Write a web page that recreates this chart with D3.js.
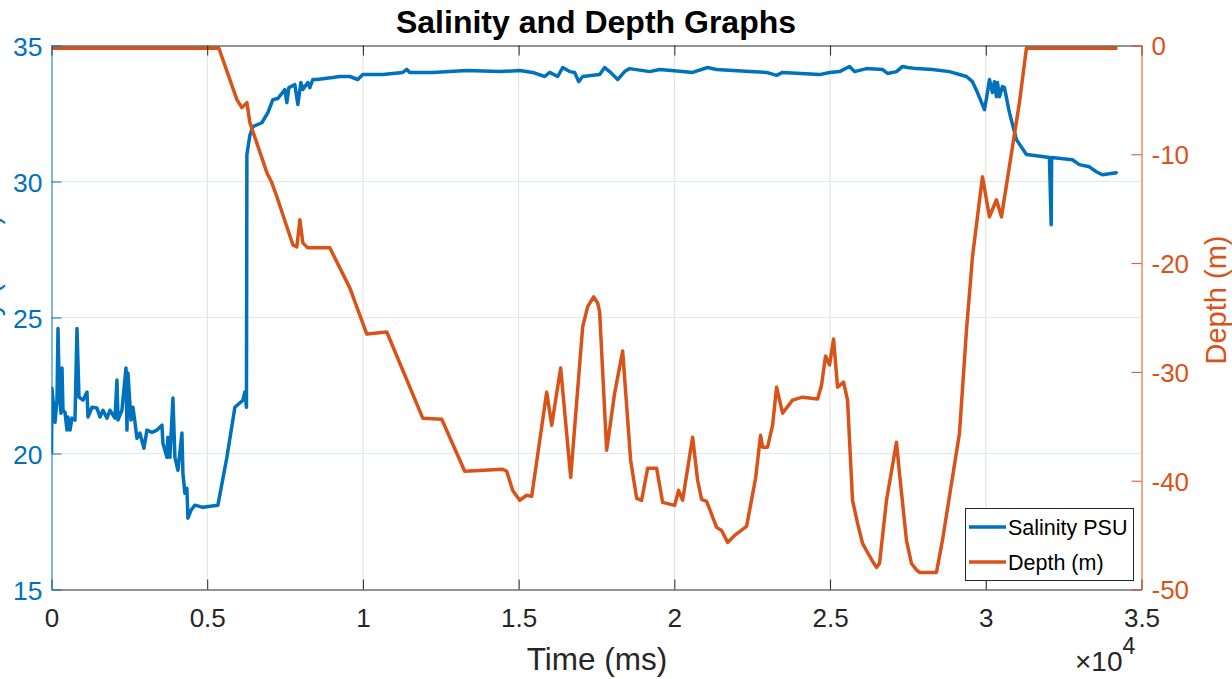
<!DOCTYPE html>
<html><head><meta charset="utf-8">
<script src="https://cdn.jsdelivr.net/npm/d3@7"></script>
<style>
body{margin:0;background:#fff;}
svg{display:block;font-family:"Liberation Sans",Arial,Helvetica,sans-serif;}
</style>
</head><body><svg id="chart" width="1232" height="679"></svg>
<script>
// ---- data ----
const chartTitle = "Salinity and Depth Graphs";
const seriesNames = ["Salinity PSU", "Depth (m)"];
const xTicks = [0, 5000, 10000, 15000, 20000, 25000, 30000, 35000];
const xTickLabels = ["0", "0.5", "1", "1.5", "2", "2.5", "3", "3.5"];
const salTicks = [15, 20, 25, 30, 35];
const depthTicks = [-50, -40, -30, -20, -10, 0];

const salTime = [0,15,112,176,209,250,305,337,369,433,497,529,594,658,754,818,883,1011,1139,1171,1300,1460,1556,1653,1781,1877,2038,2102,2134,2262,2391,2423,2455,2551,2615,2680,2744,2840,2968,3065,3225,3386,3546,3578,3706,3738,3803,3899,3963,4060,4188,4220,4284,4348,4381,4477,4605,4862,5343,5632,5889,6145,6210,6260,6274,6370,6467,6755,6948,7108,7269,7493,7558,7622,7814,7911,8007,8071,8231,8295,8392,8520,9033,9258,9579,9835,9996,10638,11280,11408,11504,12242,13333,14392,15034,15451,15836,15997,16254,16414,16639,16799,16928,17056,17601,17762,17922,18179,18404,18564,19206,19527,20265,20586,21068,21357,22416,22961,23282,23475,24662,24983,25304,25625,25786,26171,26684,26845,27133,27326,27486,27775,28288,28834,29380,29572,29733,29958,30054,30118,30214,30278,30342,30375,30439,30535,30599,30760,30984,31305,31626,32043,32100,32115,32781,33005,33326,33551,33743,34192,34225];
const salValue = [20.0,22.4,21.15,21.96,24.6,22.3,21.48,23.14,21.59,21.52,20.86,21.34,20.86,21.30,21.23,24.6,22.07,21.96,22.26,21.34,21.70,21.67,21.34,21.59,21.30,21.59,21.30,22.70,21.23,21.59,23.14,20.86,22.96,21.23,21.70,21.15,20.56,20.75,20.19,20.86,20.78,20.86,21.04,20.38,19.86,20.60,19.86,22.04,19.86,19.38,20.75,19.27,18.54,18.72,17.62,17.91,18.10,18.02,18.10,19.86,21.70,21.96,22.26,21.70,30.99,31.7,32.02,32.16,32.53,33.01,33.05,33.38,32.90,33.45,33.56,32.83,33.64,33.38,33.64,33.45,33.75,33.75,33.82,33.86,33.86,33.75,33.93,33.93,34.01,34.12,34.01,34.01,34.08,34.04,34.08,34.01,33.86,34.01,33.86,34.19,34.04,34.01,33.67,33.86,33.93,34.19,34.04,33.75,34.04,34.15,34.04,34.12,34.04,34.01,34.19,34.12,34.04,34.01,33.90,34.01,33.93,34.01,34.04,34.23,34.04,34.15,34.12,33.97,34.04,34.23,34.19,34.15,34.12,34.04,33.86,33.67,33.27,32.64,33.27,33.75,33.27,33.67,33.12,33.64,33.12,33.49,33.45,32.53,31.54,30.99,30.95,30.88,28.41,30.88,30.80,30.62,30.54,30.36,30.25,30.32,30.29];

const depthTime = [0,5375,5953,6113,6274,6370,6916,7076,7237,7590,7750,7879,7975,8071,8231,8937,9579,10124,10766,11921,12531,13269,14489,14617,14810,15034,15259,15419,15901,16061,16350,16671,17056,17216,17409,17537,17601,17826,18083,18340,18596,18789,18949,19142,19431,19624,20009,20137,20265,20586,20747,20875,21036,21357,21517,21710,21934,22319,22608,22769,22833,22993,23154,23282,23475,23796,24117,24598,24726,24855,24983,25112,25240,25433,25561,25721,25882,26042,26203,26363,26491,26588,26812,27133,27229,27453,27614,27775,27871,28417,28609,29155,29380,29572,29893,30118,30342,30503,31080,31305,34225];
const depthValue = [-0.25,-0.25,-4.97,-5.71,-5.25,-7.09,-11.69,-12.62,-13.90,-16.94,-18.32,-18.51,-16.02,-18.14,-18.60,-18.60,-22.28,-26.52,-26.33,-34.25,-34.35,-39.13,-38.95,-39.13,-40.9,-41.80,-41.34,-41.44,-31.86,-34.90,-29.65,-39.69,-25.87,-24.0,-23.11,-23.66,-24.49,-37.20,-31.95,-28.08,-38.12,-41.62,-41.80,-38.86,-38.86,-41.99,-42.27,-40.88,-41.80,-36.00,-39.96,-41.71,-41.90,-44.29,-44.57,-45.67,-45.03,-44.20,-39.78,-35.82,-36.92,-36.92,-34.90,-31.40,-33.79,-32.60,-32.32,-32.50,-31.22,-28.54,-29.37,-26.98,-31.40,-30.94,-32.60,-41.80,-43.9,-45.76,-46.6,-47.4,-47.97,-47.61,-41.80,-36.46,-39.32,-45.49,-47.61,-48.2,-48.43,-48.43,-45.49,-35.64,-26.15,-19.43,-12.06,-15.75,-14.18,-15.75,-5.25,-0.25,-0.25];

// ---- styles ----
const BLUE = "#0072BD", ORANGE = "#D95319", AX = "#262626";
const L = 51.5, R = 1141.5, T = 45.5, B = 589.5;

const svg = d3.select("#chart");
const x = d3.scaleLinear().domain([0, 35000]).range([L, R]);
const ySal = d3.scaleLinear().domain([15, 35]).range([B, T]);
const yDep = d3.scaleLinear().domain([-50, 0]).range([B, T]);

// grid
const grid = svg.append("g");
grid.selectAll("line.v").data(xTicks.slice(1, -1)).join("line")
  .attr("x1", d => x(d)).attr("x2", d => x(d)).attr("y1", T).attr("y2", B)
  .attr("stroke", "#dfdfdf").attr("stroke-width", 1);
grid.selectAll("line.h").data(salTicks.slice(1, -1)).join("line")
  .attr("y1", d => ySal(d)).attr("y2", d => ySal(d)).attr("x1", L).attr("x2", R)
  .attr("stroke", "#dbe9f4").attr("stroke-width", 1);

// lines
svg.append("defs").append("clipPath").attr("id", "clip")
  .append("rect").attr("x", L).attr("y", T - 2).attr("width", R - L).attr("height", B - T + 4);
const plot = svg.append("g").attr("clip-path", "url(#clip)");

const salLine = d3.line().x((d, i) => x(salTime[i])).y((d, i) => ySal(salValue[i]));
const depLine = d3.line().x((d, i) => x(depthTime[i])).y((d, i) => yDep(depthValue[i]));
plot.append("path").attr("d", salLine(salValue)).attr("fill", "none")
  .attr("stroke", BLUE).attr("stroke-width", 3.5).attr("stroke-linejoin", "round");
plot.append("path").attr("d", depLine(depthValue)).attr("fill", "none")
  .attr("stroke", ORANGE).attr("stroke-width", 3.5).attr("stroke-linejoin", "round");

// axes
const fmt = (d, i) => xTickLabels[i];
const gB = svg.append("g").attr("transform", `translate(0,${B})`)
  .call(d3.axisBottom(x).tickValues(xTicks).tickFormat(fmt).tickSizeInner(-10).tickSizeOuter(0).tickPadding(18));
const gT = svg.append("g").attr("transform", `translate(0,${T})`)
  .call(d3.axisTop(x).tickValues(xTicks).tickFormat("").tickSizeInner(-10).tickSizeOuter(0));
[gB, gT].forEach(g => {
  g.select(".domain").attr("stroke", AX);
  g.selectAll(".tick line").attr("stroke", AX);
});
gB.selectAll(".tick text").attr("fill", AX).attr("font-size", 26).attr("dy", "0.75em")
  .attr("font-family", "Liberation Sans, Arial, sans-serif");

const gL = svg.append("g").attr("transform", `translate(${L},0)`)
  .call(d3.axisLeft(ySal).tickValues(salTicks).tickFormat(d => String(d)).tickSizeInner(-10).tickSizeOuter(0).tickPadding(9));
gL.select(".domain").attr("stroke", BLUE);
gL.selectAll(".tick line").attr("stroke", BLUE);
gL.selectAll(".tick text").attr("fill", BLUE).attr("font-size", 26.5).attr("dy", "0.36em")
  .attr("font-family", "Liberation Sans, Arial, sans-serif");

const gR = svg.append("g").attr("transform", `translate(${R},0)`)
  .call(d3.axisRight(yDep).tickValues(depthTicks).tickFormat(d => String(d)).tickSizeInner(-10).tickSizeOuter(0).tickPadding(10));
gR.select(".domain").attr("stroke", ORANGE);
gR.selectAll(".tick line").attr("stroke", ORANGE);
gR.selectAll(".tick text").attr("fill", ORANGE).attr("font-size", 26).attr("dy", "0.36em")
  .attr("font-family", "Liberation Sans, Arial, sans-serif");

// labels
svg.append("text").attr("x", 596).attr("y", 33).attr("text-anchor", "middle")
  .attr("font-size", 32).attr("font-weight", "bold").attr("fill", "#000").text(chartTitle);
svg.append("text").attr("x", 597).attr("y", 670).attr("text-anchor", "middle")
  .attr("font-size", 31.5).attr("fill", AX).text("Time (ms)");
const ex = svg.append("text").attr("x", 1075).attr("y", 671).attr("font-size", 28).attr("fill", AX);
ex.append("tspan").text("\u00d710");
ex.append("tspan").attr("dy", -17).attr("font-size", 23).text("4");
svg.append("text").attr("transform", "translate(-1,305) rotate(-90)").attr("text-anchor", "middle")
  .attr("font-size", 29).attr("fill", BLUE).text("Salinity (PSU)");
svg.append("text").attr("transform", "translate(1226,300) rotate(-90)").attr("text-anchor", "middle")
  .attr("font-size", 29).attr("fill", ORANGE).text("Depth (m)");

// legend
const lg = svg.append("g");
lg.append("rect").attr("x", 965.5).attr("y", 508.5).attr("width", 168).attr("height", 72)
  .attr("fill", "#fff").attr("stroke", "#262626").attr("stroke-width", 1);
const colors = [BLUE, ORANGE];
const lgY = [527, 562];
seriesNames.forEach((n, i) => {
  lg.append("line").attr("x1", 969).attr("x2", 1006).attr("y1", lgY[i]).attr("y2", lgY[i])
    .attr("stroke", colors[i]).attr("stroke-width", 3.5);
  lg.append("text").attr("x", 1008).attr("y", lgY[i] + 8).attr("font-size", 21.5)
    .attr("fill", "#000").text(n);
});
</script></body></html>
